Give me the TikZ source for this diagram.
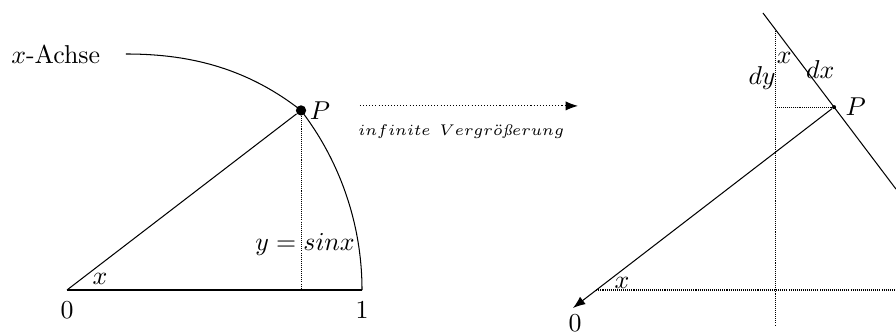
\documentclass[tikz,border=0pt]{standalone}
\usepackage{amsmath}
\usetikzlibrary{arrows.meta, positioning, calc}

\begin{document}
\begin{tikzpicture}[x=4.013cm, y=4.013cm,
    hilfslinie/.style={dash pattern=on 0.4pt off 0.4pt},
    punkt/.style={circle, fill, inner sep=0pt, minimum size=#1}]
    \useasboundingbox (-0.227,-0.149) rectangle (2.810,0.983);
    % linkes Bild: Viertelkreis
    \coordinate (O) at (0,0);
    \coordinate (E) at (1,0);
    \coordinate (S) at (0.2,0.8);
    \node[punkt=1.4mm] (P) at (37.5:1) {};
    \coordinate (F) at (P |- O);
    \draw (E) arc (0:37.5:1) .. controls (0.6,0.76) and (0.4,0.8) .. (S);
    \draw (O) -- (E);
    \draw (O) -- (P);
    \draw[hilfslinie] (P) -- (F);
    \node[left=6.5pt of S] (achse) {$x$-Achse};
    \node[anchor=west, inner sep=1pt] (plinks) at (P.east) {$P$};
    \node (null) at (0,-0.068) {$0$};
    \node (eins) at (1,-0.068) {$1$};
    \node (winkel) at (0.112,0.037) {$x$};
    \node (sinus) at (0.807,0.153) {$y=sin x$};
    % Pfeil in der Mitte
    \coordinate (pfeilA) at (0.993,0.624);
    \coordinate (pfeilB) at (1.732,0.624);
    \draw[dash pattern=on 0.4pt off 0.8pt, -{Latex}] (pfeilA) -- (pfeilB);
    \node[anchor=west, inner sep=0pt] (vergr) at (0.986,0.536)
        {\fontsize{5.9}{7}\selectfont$infinite\hspace{3.5pt}Vergr\ddot{o}\textit{\ss}erung$};
    % rechtes Bild: Vergroesserung bei P
    \node[punkt=0.55mm] (Q) at (2.600,0.620) {};
    \coordinate (T) at (2.359,0.939);
    \coordinate (R) at (2.810,0.342);
    \coordinate (K) at (2.400,0.885);
    \coordinate (H) at (K |- Q);
    \coordinate (U) at (2.400,-0.119);
    \coordinate (A) at (1.794,0);
    \coordinate (B) at (2.810,0);
    \coordinate (spitze) at (1.715,-0.061);
    \draw (T) -- (R);
    \draw[hilfslinie] (K) -- (U);
    \draw[hilfslinie] (Q) -- (H);
    \draw[hilfslinie] (A) -- (B);
    \draw[-{Latex}] (Q) -- (spitze);
    \node[anchor=west, inner sep=1pt] (prechts) at ($(Q.east)+(0.02,0)$) {$P$};
    \node (nullr) at (1.722,-0.112) {$0$};
    \node (winkelu) at (1.881,0.024) {$x$};
    \node (winkelo) at (2.431,0.786) {$x$};
    \node (dy) at (2.356,0.719) {$dy$};
    \node (dx) at (2.553,0.746) {$dx$};
\end{tikzpicture}
\end{document}
